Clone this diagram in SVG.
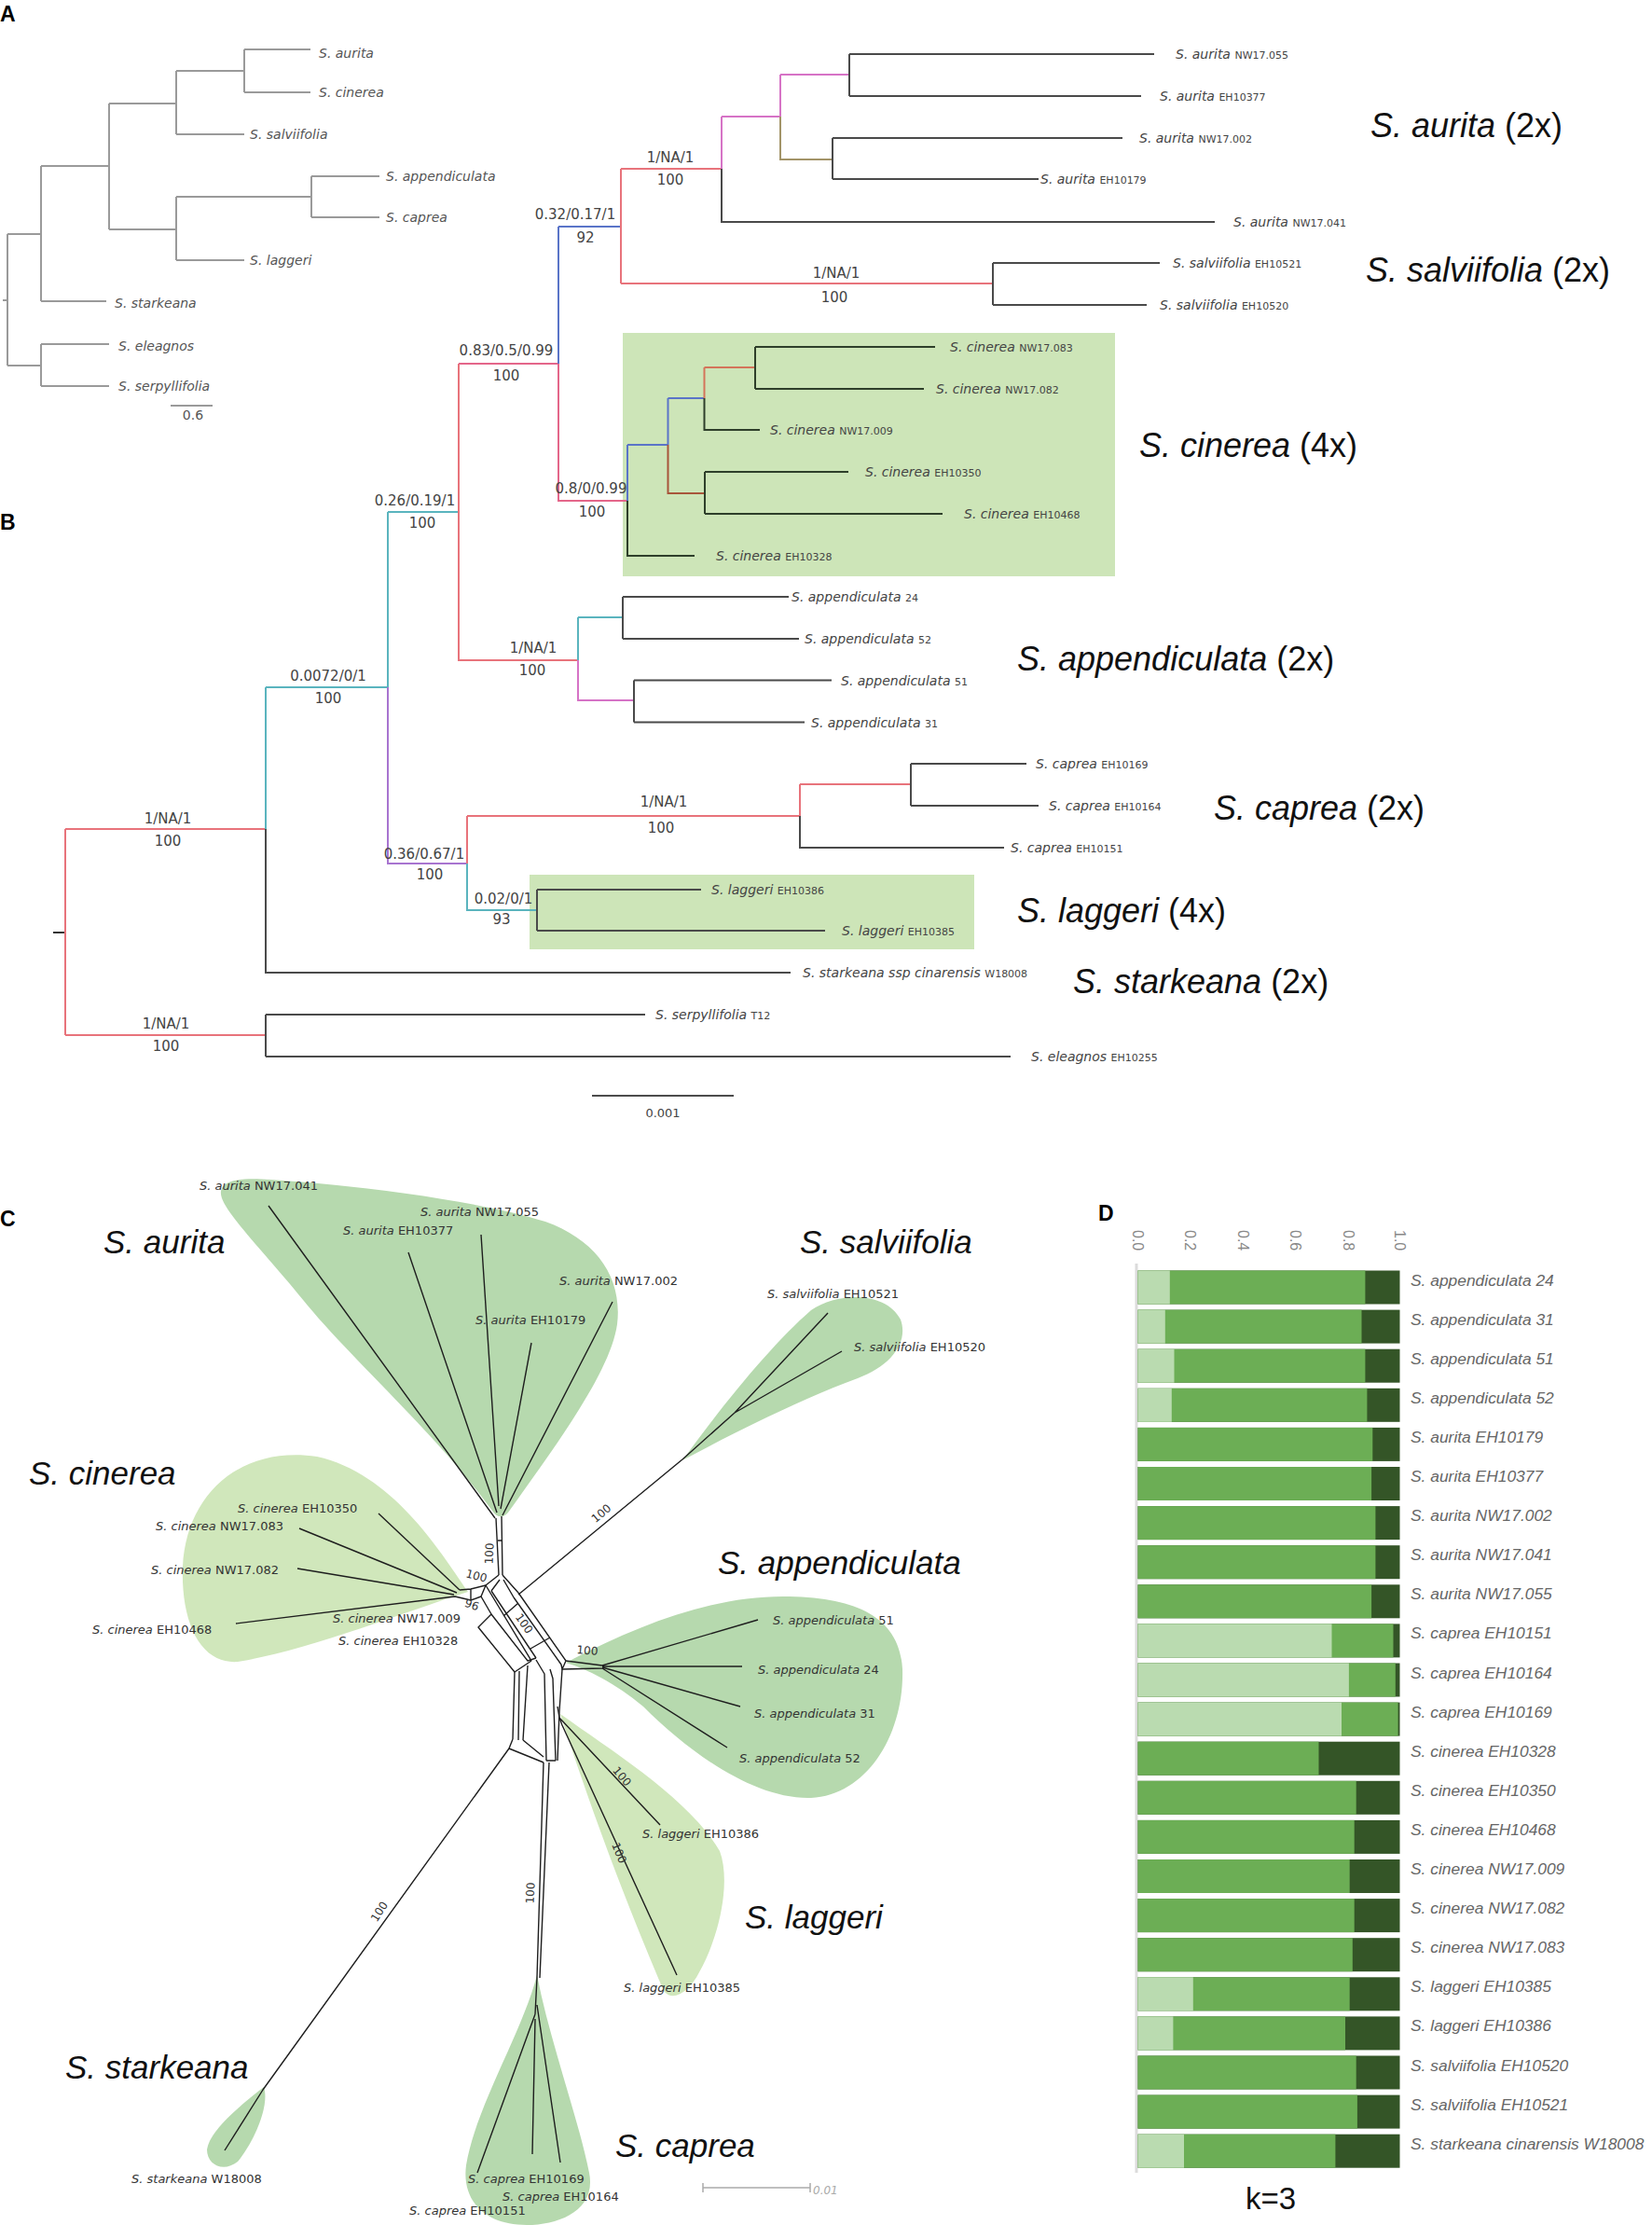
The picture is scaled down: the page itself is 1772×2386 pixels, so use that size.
<svg xmlns="http://www.w3.org/2000/svg" width="1772" height="2386" viewBox="0 0 1772 2386">
<style>
.bg{fill:#fff}
.lab{font-family:"Liberation Sans",Arial,sans-serif;font-weight:bold;font-size:23px;fill:#000}
.pa{font-family:"DejaVu Sans",sans-serif;font-size:14px;font-style:italic;fill:#555}
.pal{stroke:#9a9a9a;stroke-width:2;fill:none}
.lf{font-family:"DejaVu Sans",sans-serif;font-size:14px;font-style:italic;fill:#444}
.id{font-style:normal;font-size:11px}
.bl{font-family:"DejaVu Sans",sans-serif;font-size:15px;fill:#444;text-anchor:middle}
.big{font-family:"Liberation Sans",Arial,sans-serif;font-size:36px;fill:#111}
.bigc{font-family:"Liberation Sans",Arial,sans-serif;font-size:35px;fill:#111;font-style:italic}
.it{font-style:italic}
.g{stroke:#4a4a4a;stroke-width:2;fill:none}
.dk{stroke:#2e3f2a;stroke-width:2;fill:none}
.r{stroke:#e8737b;stroke-width:2;fill:none}
.k{stroke:#e4668a;stroke-width:2;fill:none}
.t{stroke:#5ab4be;stroke-width:2;fill:none}
.p{stroke:#a874d0;stroke-width:2;fill:none}
.m{stroke:#d673c6;stroke-width:2;fill:none}
.b{stroke:#5a74c8;stroke-width:2;fill:none}
.o{stroke:#a39468;stroke-width:2;fill:none}
.br{stroke:#a8553a;stroke-width:2;fill:none}
.or{stroke:#d4745a;stroke-width:2;fill:none}
.box{fill:#cde5b8}
.lc{font-family:"DejaVu Sans",sans-serif;font-size:13px;fill:#333}
.num{font-family:"DejaVu Sans",sans-serif;font-size:12px;fill:#333;text-anchor:middle}
.net{stroke:#1e1e1e;stroke-width:1.4;fill:none;stroke-linejoin:round}
.b1{fill:#b6d9ae}
.b2{fill:#d0e7bb}
.lt{fill:#badbb0}
.md{fill:#6cae55}
.dd{fill:#345527}
.dl{font-family:"Liberation Sans",Arial,sans-serif;font-size:17.4px;font-style:italic;fill:#666}
.ax{font-family:"Liberation Sans",Arial,sans-serif;font-size:16px;fill:#888}
</style>
<rect class="bg" x="0" y="0" width="1772" height="2386"/>

<!-- Panel letters -->
<text class="lab" x="0" y="23">A</text>
<text class="lab" x="0" y="568">B</text>
<text class="lab" x="0" y="1315">C</text>
<text class="lab" x="1178" y="1309">D</text>

<!-- ===== Panel A ===== -->
<g id="panelA-connectors">
<path class="pal" d="M3,322 H8 M8,251 V392 M8,251 H44 M8,392 H44 M44,178 V323 M44,323 H114 M44,369 V414 M44,369 H117 M44,414 H117 M44,178 H117 M117,111 V246 M117,111 H189 M189,76 V144 M189,144 H262 M189,76 H262 M262,53 V99 M262,53 H333 M262,99 H333 M117,246 H189 M189,211 V279 M189,279 H262 M189,211 H334 M334,189 V233 M334,189 H407 M334,233 H407"/>
<path class="pal" d="M183,435 H228"/>
</g>
<g id="panelA-labels">
<text class="pa" x="342" y="62">S. aurita</text>
<text class="pa" x="342" y="104">S. cinerea</text>
<text class="pa" x="268" y="149">S. salviifolia</text>
<text class="pa" x="414" y="194">S. appendiculata</text>
<text class="pa" x="414" y="238">S. caprea</text>
<text class="pa" x="268" y="284">S. laggeri</text>
<text class="pa" x="123" y="330">S. starkeana</text>
<text class="pa" x="127" y="376">S. eleagnos</text>
<text class="pa" x="127" y="419">S. serpyllifolia</text>
<text class="pa" x="207" y="450" style="font-style:normal" text-anchor="middle">0.6</text>
</g>

<!-- ===== Panel B ===== -->
<rect id="cinerea-box" class="box" x="668" y="357" width="528" height="261"/>
<rect id="laggeri-box" class="box" x="568" y="938" width="477" height="80"/>

<g id="panelB-connectors">
<path stroke="#333" stroke-width="2" d="M57,1000 H70"/>
<path class="r" d="M70,889 V1110 M70,889 H285 M70,1110 H285"/>
<path class="t" d="M285,737 V889 M285,737 H416 M416,549 V737 M416,549 H492"/>
<path class="g" d="M285,889 V1043 H848 M285,1088 V1133 M285,1088 H692 M285,1133 H1084"/>
<path class="p" d="M416,737 V926 H501"/>
<path class="r" d="M492,390 V708 H620"/>
<path class="k" d="M492,390 H599 M599,390 V537 H673"/>
<path class="b" d="M599,243 V390 M599,243 H666"/>
<path class="r" d="M666,181 V304 M666,181 H774 M666,304 H1065"/>
<path class="m" d="M774,125 V181 M774,125 H837 M837,80 V125 M837,80 H911"/>
<path class="o" d="M837,125 V171 H893"/>
<path class="g" d="M774,181 V238 H1303 M911,58 V103 M911,58 H1238 M911,103 H1224 M893,148 V192 M893,148 H1204 M893,192 H1114 M1065,282 V327 M1065,282 H1244 M1065,327 H1230"/>
<path class="b" d="M673,477 V537 M673,477 H716.5 M716.5,427 V477 M716.5,427 H755.5"/>
<path class="br" d="M716.5,477 V529 H756"/>
<path class="or" d="M755.5,394 V427 M755.5,394 H810"/>
<path class="dk" d="M673,537 V596 H745 M755.5,427 V461 H815 M810,372 V417 M810,372 H1003 M810,417 H991 M756,506 V551 M756,506 H910 M756,551 H1011"/>
<path class="t" d="M620,662 V708 M620,662 H668"/>
<path class="m" d="M620,708 V751 H680"/>
<path class="g" d="M668,640 V685 M668,640 H846 M668,685 H857 M680,729.5 V774.5 M680,729.5 H892 M680,774.5 H863"/>
<path class="r" d="M501,875 V926 M501,875 H858 M858,841 V875 M858,841 H977"/>
<path class="t" d="M501,926 V976 H576"/>
<path class="g" d="M858,875 V909 H1077 M977,819 V864 M977,819 H1101 M977,864 H1114 M576,954 V998 M576,954 H752 M576,998 H885"/>
<path stroke="#111" stroke-width="1.5" d="M635,1175 H787"/>
</g>

<g id="panelB-branch-labels">
<text class="bl" x="180" y="883">1/NA/1</text><text class="bl" x="180" y="907">100</text>
<text class="bl" x="178" y="1103">1/NA/1</text><text class="bl" x="178" y="1127">100</text>
<text class="bl" x="352" y="730">0.0072/0/1</text><text class="bl" x="352" y="754">100</text>
<text class="bl" x="445" y="542">0.26/0.19/1</text><text class="bl" x="453" y="566">100</text>
<text class="bl" x="543" y="381">0.83/0.5/0.99</text><text class="bl" x="543" y="408">100</text>
<text class="bl" x="617" y="235">0.32/0.17/1</text><text class="bl" x="628" y="260">92</text>
<text class="bl" x="719" y="174">1/NA/1</text><text class="bl" x="719" y="198">100</text>
<text class="bl" x="897" y="298">1/NA/1</text><text class="bl" x="895" y="324">100</text>
<text class="bl" x="634" y="529">0.8/0/0.99</text><text class="bl" x="635" y="554">100</text>
<text class="bl" x="572" y="700">1/NA/1</text><text class="bl" x="571" y="724">100</text>
<text class="bl" x="455" y="921">0.36/0.67/1</text><text class="bl" x="461" y="943">100</text>
<text class="bl" x="712" y="865">1/NA/1</text><text class="bl" x="709" y="893">100</text>
<text class="bl" x="540" y="969">0.02/0/1</text><text class="bl" x="538" y="991">93</text>
<text class="bl" x="711" y="1198" style="font-size:13px">0.001</text>
</g>

<g id="panelB-leaves">
<g id="b-aur-nw055"><text class="lf" x="1261" y="63">S. aurita <tspan class="id">NW17.055</tspan></text></g>
<g id="b-aur-eh10377"><text class="lf" x="1244" y="108">S. aurita <tspan class="id">EH10377</tspan></text></g>
<g id="b-aur-nw002"><text class="lf" x="1222" y="153">S. aurita <tspan class="id">NW17.002</tspan></text></g>
<g id="b-aur-eh10179"><text class="lf" x="1116" y="197">S. aurita <tspan class="id">EH10179</tspan></text></g>
<g id="b-aur-nw041"><text class="lf" x="1323" y="243">S. aurita <tspan class="id">NW17.041</tspan></text></g>
<g id="b-sal-eh10521"><text class="lf" x="1258" y="287">S. salviifolia <tspan class="id">EH10521</tspan></text></g>
<g id="b-sal-eh10520"><text class="lf" x="1244" y="332">S. salviifolia <tspan class="id">EH10520</tspan></text></g>
<g id="b-cin-nw083"><text class="lf" x="1019" y="377">S. cinerea <tspan class="id">NW17.083</tspan></text></g>
<g id="b-cin-nw082"><text class="lf" x="1004" y="422">S. cinerea <tspan class="id">NW17.082</tspan></text></g>
<g id="b-cin-nw009"><text class="lf" x="826" y="466">S. cinerea <tspan class="id">NW17.009</tspan></text></g>
<g id="b-cin-eh10350"><text class="lf" x="928" y="511">S. cinerea <tspan class="id">EH10350</tspan></text></g>
<g id="b-cin-eh10468"><text class="lf" x="1034" y="556">S. cinerea <tspan class="id">EH10468</tspan></text></g>
<g id="b-cin-eh10328"><text class="lf" x="768" y="601">S. cinerea <tspan class="id">EH10328</tspan></text></g>
<g id="b-app-24"><text class="lf" x="849" y="645">S. appendiculata <tspan class="id">24</tspan></text></g>
<g id="b-app-52"><text class="lf" x="863" y="690">S. appendiculata <tspan class="id">52</tspan></text></g>
<g id="b-app-51"><text class="lf" x="902" y="735">S. appendiculata <tspan class="id">51</tspan></text></g>
<g id="b-app-31"><text class="lf" x="870" y="780">S. appendiculata <tspan class="id">31</tspan></text></g>
<g id="b-cap-eh10169"><text class="lf" x="1111" y="824">S. caprea <tspan class="id">EH10169</tspan></text></g>
<g id="b-cap-eh10164"><text class="lf" x="1125" y="869">S. caprea <tspan class="id">EH10164</tspan></text></g>
<g id="b-cap-eh10151"><text class="lf" x="1084" y="914">S. caprea <tspan class="id">EH10151</tspan></text></g>
<g id="b-lag-eh10386"><text class="lf" x="763" y="959">S. laggeri <tspan class="id">EH10386</tspan></text></g>
<g id="b-lag-eh10385"><text class="lf" x="903" y="1003">S. laggeri <tspan class="id">EH10385</tspan></text></g>
<g id="b-stark"><text class="lf" x="861" y="1048">S. starkeana ssp cinarensis <tspan class="id">W18008</tspan></text></g>
<g id="b-serp"><text class="lf" x="703" y="1093">S. serpyllifolia <tspan class="id">T12</tspan></text></g>
<g id="b-elea"><text class="lf" x="1106" y="1138">S. eleagnos <tspan class="id">EH10255</tspan></text></g>
</g>

<g id="panelB-species">
<text class="big" x="1470" y="147"><tspan class="it">S. aurita</tspan> (2x)</text>
<text class="big" x="1465" y="302"><tspan class="it">S. salviifolia</tspan> (2x)</text>
<text class="big" x="1222" y="490"><tspan class="it">S. cinerea</tspan> (4x)</text>
<text class="big" x="1091" y="719"><tspan class="it">S. appendiculata</tspan> (2x)</text>
<text class="big" x="1302" y="879"><tspan class="it">S. caprea</tspan> (2x)</text>
<text class="big" x="1091" y="989"><tspan class="it">S. laggeri</tspan> (4x)</text>
<text class="big" x="1151" y="1065"><tspan class="it">S. starkeana</tspan> (2x)</text>
</g>

<!-- ===== Panel C ===== -->
<g id="panelC-blobs">
<path id="blob-aurita" class="b1" d="M238,1285 C232,1268 250,1262 290,1265 C400,1272 520,1290 585,1310 C640,1330 668,1370 662,1420 C655,1470 600,1545 545,1622 C540,1628 533,1628 528,1620 C470,1540 380,1460 330,1400 C290,1350 245,1305 238,1285 Z"/>
<path id="blob-salviifolia" class="b1" d="M732,1566 C780,1500 830,1440 870,1405 C900,1385 950,1385 966,1415 C975,1440 955,1465 920,1478 C860,1500 790,1535 732,1566 Z"/>
<path id="blob-cinerea" class="b2" d="M502,1707 C470,1660 420,1580 340,1562 C260,1550 200,1600 196,1680 C194,1740 215,1785 255,1782 C330,1770 430,1730 502,1707 Z"/>
<path id="blob-appendiculata" class="b1" d="M607,1783 C680,1745 760,1712 840,1712 C920,1712 965,1735 968,1790 C970,1860 930,1925 870,1928 C810,1930 740,1880 690,1830 C660,1805 630,1790 607,1783 Z"/>
<path id="blob-laggeri" class="b2" d="M601,1838 C660,1880 740,1930 772,1985 C785,2020 770,2080 750,2115 C740,2135 722,2148 712,2135 C680,2060 640,1960 601,1838 Z"/>
<path id="blob-starkeana" class="b1" d="M283,2238 C290,2260 270,2300 255,2318 C240,2330 222,2322 222,2305 C225,2285 255,2260 283,2238 Z"/>
<path id="blob-caprea" class="b1" d="M576,2118 C590,2190 620,2270 632,2330 C640,2370 600,2386 565,2386 C520,2386 495,2360 500,2322 C510,2260 560,2180 576,2118 Z"/>
</g>

<g id="panelC-connectors">
<path class="net" d="M288,1293 L531,1628 M438,1343 L533,1622 M516,1324 L535,1615 M570,1440 L537,1618 M657,1396 L539,1625"/>
<path class="net" d="M532,1628 L535,1689 M538,1626 L539,1689 M534,1652 L538,1652"/>
<path class="net" d="M406,1623 L493,1705 M321,1639 L490,1708 M319,1682 L487,1710 M253,1741 L488,1712 M493,1705 L505,1704 L521,1700 M488,1712 L505,1716 L516,1712 M505,1704 L505,1716"/>
<path class="net" d="M535,1689 L521,1700 M539,1689 L556,1708 M536,1694 L527,1706 M540,1694 L551,1713 M521,1700 L516,1712"/>
<path class="net" d="M521,1700 L570,1781 M527,1706 L575,1778 M556,1708 L607,1781 M551,1713 L602,1785 M540,1733 L556,1719 M569,1768 L590,1756 M607,1781 L603,1790 L602,1785"/>
<path class="net" d="M527,1731 L513,1745 L552,1793 M527,1731 L566,1781 L575,1778 M570,1781 L552,1793 M516,1712 L527,1731"/>
<path class="net" d="M552,1793 L550,1865 M557,1792 L556,1866 M566,1786 L561,1866 M575,1780 L584,1795 L586,1888 M590,1790 L593,1800 L596,1888 M603,1790 L600,1835 L598,1888 M550,1865 L546,1875 L583,1890 M561,1866 L583,1884 M586,1888 L596,1888"/>
<path class="net" d="M556,1710 L732,1565 L788,1515 M788,1515 L888,1408 M788,1515 L903,1449"/>
<path class="net" d="M607,1781 L646,1786 M603,1790 L646,1789 M646,1786 L813,1737 M646,1787 L796,1787 M646,1788 L794,1830 M646,1789 L780,1874"/>
<path class="net" d="M598,1830 L600,1842 L708,1957 M600,1842 L603,1850 L726,2118"/>
<path class="net" d="M546,1875 L282,2241 L241,2306"/>
<path class="net" d="M583,1890 L576,2121 L574,2160 M589,1890 L579,2121 M574,2160 L512,2330 M574,2165 L571,2310 M576,2150 L601,2319"/>
<path stroke="#aaa" stroke-width="1.5" fill="none" d="M754,2346 H869 M754,2341 V2351 M869,2341 V2351"/>
</g>

<g id="panelC-support">
<text class="num" transform="translate(525,1666) rotate(-88)" y="4">100</text>
<text class="num" transform="translate(511,1690) rotate(15)" y="4">100</text>
<text class="num" transform="translate(506,1721) rotate(20)" y="4">96</text>
<text class="num" transform="translate(562,1741) rotate(55)" y="4">100</text>
<text class="num" transform="translate(630,1770) rotate(5)" y="4">100</text>
<text class="num" transform="translate(645,1623) rotate(-40)" y="4">100</text>
<text class="num" transform="translate(667,1905) rotate(50)" y="4">100</text>
<text class="num" transform="translate(664,1987) rotate(68)" y="4">100</text>
<text class="num" transform="translate(407,2050) rotate(-58)" y="4">100</text>
<text class="num" transform="translate(569,2030) rotate(-88)" y="4">100</text>
<text x="872" y="2353" style="font-family:'DejaVu Sans',sans-serif;font-size:12px;font-style:italic;fill:#aaa">0.01</text>
</g>

<g id="panelC-leaves">
<g id="c-aur-nw041"><text class="lc" x="214" y="1276"><tspan class="it">S. aurita</tspan> NW17.041</text></g>
<g id="c-aur-nw055"><text class="lc" x="451" y="1304"><tspan class="it">S. aurita</tspan> NW17.055</text></g>
<g id="c-aur-eh10377"><text class="lc" x="368" y="1324"><tspan class="it">S. aurita</tspan> EH10377</text></g>
<g id="c-aur-nw002"><text class="lc" x="600" y="1378"><tspan class="it">S. aurita</tspan> NW17.002</text></g>
<g id="c-aur-eh10179"><text class="lc" x="510" y="1420"><tspan class="it">S. aurita</tspan> EH10179</text></g>
<g id="c-sal-eh10521"><text class="lc" x="823" y="1392"><tspan class="it">S. salviifolia</tspan> EH10521</text></g>
<g id="c-sal-eh10520"><text class="lc" x="916" y="1449"><tspan class="it">S. salviifolia</tspan> EH10520</text></g>
<g id="c-cin-eh10350"><text class="lc" x="255" y="1622"><tspan class="it">S. cinerea</tspan> EH10350</text></g>
<g id="c-cin-nw083"><text class="lc" x="167" y="1641"><tspan class="it">S. cinerea</tspan> NW17.083</text></g>
<g id="c-cin-nw082"><text class="lc" x="162" y="1688"><tspan class="it">S. cinerea</tspan> NW17.082</text></g>
<g id="c-cin-eh10468"><text class="lc" x="99" y="1752"><tspan class="it">S. cinerea</tspan> EH10468</text></g>
<g id="c-cin-nw009"><text class="lc" x="357" y="1740"><tspan class="it">S. cinerea</tspan> NW17.009</text></g>
<g id="c-cin-eh10328"><text class="lc" x="363" y="1764"><tspan class="it">S. cinerea</tspan> EH10328</text></g>
<g id="c-app-51"><text class="lc" x="829" y="1742"><tspan class="it">S. appendiculata</tspan> 51</text></g>
<g id="c-app-24"><text class="lc" x="813" y="1795"><tspan class="it">S. appendiculata</tspan> 24</text></g>
<g id="c-app-31"><text class="lc" x="809" y="1842"><tspan class="it">S. appendiculata</tspan> 31</text></g>
<g id="c-app-52"><text class="lc" x="793" y="1890"><tspan class="it">S. appendiculata</tspan> 52</text></g>
<g id="c-lag-eh10386"><text class="lc" x="689" y="1971"><tspan class="it">S. laggeri</tspan> EH10386</text></g>
<g id="c-lag-eh10385"><text class="lc" x="669" y="2136"><tspan class="it">S. laggeri</tspan> EH10385</text></g>
<g id="c-stark"><text class="lc" x="141" y="2341"><tspan class="it">S. starkeana</tspan> W18008</text></g>
<g id="c-cap-eh10169"><text class="lc" x="502" y="2341"><tspan class="it">S. caprea</tspan> EH10169</text></g>
<g id="c-cap-eh10164"><text class="lc" x="539" y="2360"><tspan class="it">S. caprea</tspan> EH10164</text></g>
<g id="c-cap-eh10151"><text class="lc" x="439" y="2375"><tspan class="it">S. caprea</tspan> EH10151</text></g>
</g>

<g id="panelC-species">
<text class="bigc" x="111" y="1344">S. aurita</text>
<text class="bigc" x="858" y="1344">S. salviifolia</text>
<text class="bigc" x="31" y="1592">S. cinerea</text>
<text class="bigc" x="770" y="1688">S. appendiculata</text>
<text class="bigc" x="799" y="2068">S. laggeri</text>
<text class="bigc" x="70" y="2229">S. starkeana</text>
<text class="bigc" x="660" y="2313">S. caprea</text>
</g>

<!-- ===== Panel D ===== -->
<g id="panelD-axis">
<text class="ax" transform="translate(1215,1319) rotate(90)">0.0</text>
<text class="ax" transform="translate(1271,1319) rotate(90)">0.2</text>
<text class="ax" transform="translate(1328,1319) rotate(90)">0.4</text>
<text class="ax" transform="translate(1384,1319) rotate(90)">0.6</text>
<text class="ax" transform="translate(1441,1319) rotate(90)">0.8</text>
<text class="ax" transform="translate(1496,1319) rotate(90)">1.0</text>
<path stroke="#dcdcdc" stroke-width="3" d="M1219,1355 V2330"/>
</g>
<g id="panelD-bars">
<g id="d0"><rect class="dd" x="1220.5" y="1362.5" width="281" height="36"/><rect class="md" x="1220.5" y="1362.5" width="243.9" height="36"/><rect class="lt" x="1220.5" y="1362.5" width="34.3" height="36"/><text class="dl" x="1513" y="1378.5">S. appendiculata 24</text></g>
<g id="d1"><rect class="dd" x="1220.5" y="1404.6" width="281" height="36"/><rect class="md" x="1220.5" y="1404.6" width="240" height="36"/><rect class="lt" x="1220.5" y="1404.6" width="29.3" height="36"/><text class="dl" x="1513" y="1420.6">S. appendiculata 31</text></g>
<g id="d2"><rect class="dd" x="1220.5" y="1446.7" width="281" height="36"/><rect class="md" x="1220.5" y="1446.7" width="243.9" height="36"/><rect class="lt" x="1220.5" y="1446.7" width="39" height="36"/><text class="dl" x="1513" y="1462.7">S. appendiculata 51</text></g>
<g id="d3"><rect class="dd" x="1220.5" y="1488.8" width="281" height="36"/><rect class="md" x="1220.5" y="1488.8" width="245.9" height="36"/><rect class="lt" x="1220.5" y="1488.8" width="36.3" height="36"/><text class="dl" x="1513" y="1504.8">S. appendiculata 52</text></g>
<g id="d4"><rect class="dd" x="1220.5" y="1530.9" width="281" height="36"/><rect class="md" x="1220.5" y="1530.9" width="251.8" height="36"/><text class="dl" x="1513" y="1546.9">S. aurita EH10179</text></g>
<g id="d5"><rect class="dd" x="1220.5" y="1573" width="281" height="36"/><rect class="md" x="1220.5" y="1573" width="250.6" height="36"/><text class="dl" x="1513" y="1589">S. aurita EH10377</text></g>
<g id="d6"><rect class="dd" x="1220.5" y="1615.1" width="281" height="36"/><rect class="md" x="1220.5" y="1615.1" width="254.9" height="36"/><text class="dl" x="1513" y="1631.1">S. aurita NW17.002</text></g>
<g id="d7"><rect class="dd" x="1220.5" y="1657.2" width="281" height="36"/><rect class="md" x="1220.5" y="1657.2" width="254.9" height="36"/><text class="dl" x="1513" y="1673.2">S. aurita NW17.041</text></g>
<g id="d8"><rect class="dd" x="1220.5" y="1699.3" width="281" height="36"/><rect class="md" x="1220.5" y="1699.3" width="250.6" height="36"/><text class="dl" x="1513" y="1715.3">S. aurita NW17.055</text></g>
<g id="d9"><rect class="dd" x="1220.5" y="1741.4" width="281" height="36"/><rect class="md" x="1220.5" y="1741.4" width="274" height="36"/><rect class="lt" x="1220.5" y="1741.4" width="208" height="36"/><text class="dl" x="1513" y="1757.4">S. caprea EH10151</text></g>
<g id="d10"><rect class="dd" x="1220.5" y="1783.5" width="281" height="36"/><rect class="md" x="1220.5" y="1783.5" width="276.3" height="36"/><rect class="lt" x="1220.5" y="1783.5" width="226.4" height="36"/><text class="dl" x="1513" y="1799.5">S. caprea EH10164</text></g>
<g id="d11"><rect class="dd" x="1220.5" y="1825.6" width="281" height="36"/><rect class="md" x="1220.5" y="1825.6" width="279.1" height="36"/><rect class="lt" x="1220.5" y="1825.6" width="218.5" height="36"/><text class="dl" x="1513" y="1841.6">S. caprea EH10169</text></g>
<g id="d12"><rect class="dd" x="1220.5" y="1867.7" width="281" height="36"/><rect class="md" x="1220.5" y="1867.7" width="194" height="36"/><text class="dl" x="1513" y="1883.7">S. cinerea EH10328</text></g>
<g id="d13"><rect class="dd" x="1220.5" y="1909.8" width="281" height="36"/><rect class="md" x="1220.5" y="1909.8" width="234.2" height="36"/><text class="dl" x="1513" y="1925.8">S. cinerea EH10350</text></g>
<g id="d14"><rect class="dd" x="1220.5" y="1951.9" width="281" height="36"/><rect class="md" x="1220.5" y="1951.9" width="232.2" height="36"/><text class="dl" x="1513" y="1967.9">S. cinerea EH10468</text></g>
<g id="d15"><rect class="dd" x="1220.5" y="1994" width="281" height="36"/><rect class="md" x="1220.5" y="1994" width="227.2" height="36"/><text class="dl" x="1513" y="2010">S. cinerea NW17.009</text></g>
<g id="d16"><rect class="dd" x="1220.5" y="2036.1" width="281" height="36"/><rect class="md" x="1220.5" y="2036.1" width="232.2" height="36"/><text class="dl" x="1513" y="2052.1">S. cinerea NW17.082</text></g>
<g id="d17"><rect class="dd" x="1220.5" y="2078.2" width="281" height="36"/><rect class="md" x="1220.5" y="2078.2" width="230.3" height="36"/><text class="dl" x="1513" y="2094.2">S. cinerea NW17.083</text></g>
<g id="d18"><rect class="dd" x="1220.5" y="2120.3" width="281" height="36"/><rect class="md" x="1220.5" y="2120.3" width="227.2" height="36"/><rect class="lt" x="1220.5" y="2120.3" width="59.3" height="36"/><text class="dl" x="1513" y="2136.3">S. laggeri EH10385</text></g>
<g id="d19"><rect class="dd" x="1220.5" y="2162.4" width="281" height="36"/><rect class="md" x="1220.5" y="2162.4" width="222.5" height="36"/><rect class="lt" x="1220.5" y="2162.4" width="37.9" height="36"/><text class="dl" x="1513" y="2178.4">S. laggeri EH10386</text></g>
<g id="d20"><rect class="dd" x="1220.5" y="2204.5" width="281" height="36"/><rect class="md" x="1220.5" y="2204.5" width="234.2" height="36"/><text class="dl" x="1513" y="2220.5">S. salviifolia EH10520</text></g>
<g id="d21"><rect class="dd" x="1220.5" y="2246.6" width="281" height="36"/><rect class="md" x="1220.5" y="2246.6" width="235.4" height="36"/><text class="dl" x="1513" y="2262.6">S. salviifolia EH10521</text></g>
<g id="d22"><rect class="dd" x="1220.5" y="2288.7" width="281" height="36"/><rect class="md" x="1220.5" y="2288.7" width="211.9" height="36"/><rect class="lt" x="1220.5" y="2288.7" width="49.5" height="36"/><text class="dl" x="1513" y="2304.7">S. starkeana cinarensis W18008</text></g>
</g>
<text x="1363" y="2369" text-anchor="middle" style="font-family:'Liberation Sans',Arial,sans-serif;font-size:33px;fill:#111">k=3</text>
</svg>
